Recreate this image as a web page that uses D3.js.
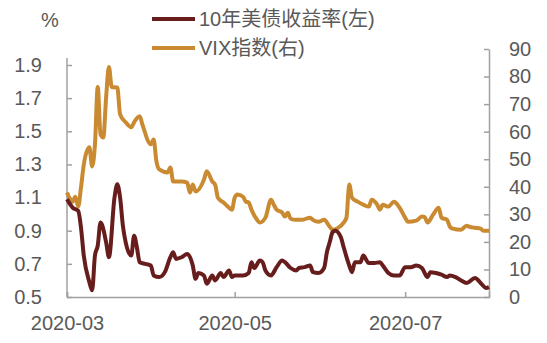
<!DOCTYPE html>
<html>
<head>
<meta charset="utf-8">
<script src="https://cdn.jsdelivr.net/npm/d3@7"></script>
<style>
  body { margin: 0; background: #fff; }
  svg text { font-family: "Liberation Sans", Arial, "Noto Sans CJK SC", sans-serif; fill: #595959; }
</style>
</head>
<body>
<div id="chart"></div>
<script>
// 10y treasury yield (left, %) and VIX (right), Mar-Jul 2020
var yieldDates = ["2020-03-02","2020-03-04","2020-03-06","2020-03-07","2020-03-08","2020-03-10","2020-03-11","2020-03-12","2020-03-13","2020-03-14",
  "2020-03-16","2020-03-17","2020-03-19","2020-03-20","2020-03-21","2020-03-22","2020-03-23","2020-03-25","2020-03-26","2020-03-27",
  "2020-03-28","2020-03-30","2020-04-01","2020-04-02","2020-04-04","2020-04-06","2020-04-08","2020-04-09","2020-04-10","2020-04-12",
  "2020-04-14","2020-04-16","2020-04-17","2020-04-18","2020-04-20","2020-04-21","2020-04-23","2020-04-24","2020-04-26","2020-04-27",
  "2020-04-29","2020-04-30","2020-05-01","2020-05-04","2020-05-06","2020-05-07","2020-05-08","2020-05-10","2020-05-11","2020-05-12",
  "2020-05-14","2020-05-16","2020-05-18","2020-05-19","2020-05-21","2020-05-23","2020-05-24","2020-05-26","2020-05-28","2020-05-29",
  "2020-05-31","2020-06-02","2020-06-03","2020-06-04","2020-06-05","2020-06-06","2020-06-08","2020-06-09","2020-06-11","2020-06-12",
  "2020-06-13","2020-06-15","2020-06-16","2020-06-18","2020-06-20","2020-06-22","2020-06-23","2020-06-25","2020-06-27","2020-06-29",
  "2020-07-01","2020-07-03","2020-07-05","2020-07-07","2020-07-09","2020-07-10","2020-07-12","2020-07-14","2020-07-16","2020-07-17",
  "2020-07-19","2020-07-21","2020-07-23","2020-07-26","2020-07-28","2020-07-30","2020-07-31"];
var yieldValues = [1.09,1.04,1.02,0.92,0.75,0.59,0.54,0.75,0.81,0.95,
  0.83,0.74,1.10,1.18,1.10,0.93,0.83,0.75,0.87,0.80,
  0.71,0.70,0.69,0.63,0.62,0.65,0.74,0.77,0.73,0.74,
  0.76,0.69,0.61,0.645,0.63,0.58,0.63,0.60,0.645,0.62,
  0.66,0.62,0.63,0.63,0.645,0.71,0.675,0.72,0.71,0.66,
  0.63,0.68,0.72,0.71,0.675,0.66,0.675,0.68,0.69,0.65,
  0.645,0.675,0.77,0.83,0.89,0.90,0.86,0.80,0.69,0.65,
  0.71,0.71,0.75,0.705,0.705,0.71,0.69,0.645,0.63,0.63,
  0.68,0.68,0.69,0.675,0.62,0.65,0.645,0.635,0.62,0.63,
  0.62,0.60,0.585,0.615,0.585,0.555,0.56];

var vixDates = ["2020-03-02","2020-03-04","2020-03-05","2020-03-06","2020-03-07","2020-03-08","2020-03-10","2020-03-11","2020-03-12","2020-03-13",
  "2020-03-14","2020-03-15","2020-03-16","2020-03-17","2020-03-18","2020-03-20","2020-03-21","2020-03-23","2020-03-25","2020-03-26",
  "2020-03-28","2020-03-29","2020-04-01","2020-04-02","2020-04-03","2020-04-04","2020-04-07","2020-04-08","2020-04-09","2020-04-12",
  "2020-04-14","2020-04-15","2020-04-16","2020-04-17","2020-04-20","2020-04-21","2020-04-23","2020-04-24","2020-04-25","2020-04-27",
  "2020-04-29","2020-04-30","2020-05-01","2020-05-02","2020-05-04","2020-05-05","2020-05-06","2020-05-07","2020-05-09","2020-05-10",
  "2020-05-12","2020-05-14","2020-05-15","2020-05-16","2020-05-18","2020-05-19","2020-05-20","2020-05-21","2020-05-23","2020-05-25",
  "2020-05-28","2020-05-29","2020-05-31","2020-06-02","2020-06-04","2020-06-05","2020-06-07","2020-06-09","2020-06-10","2020-06-11",
  "2020-06-12","2020-06-14","2020-06-16","2020-06-18","2020-06-19","2020-06-21","2020-06-22","2020-06-23","2020-06-25","2020-06-27",
  "2020-06-29","2020-07-01","2020-07-02","2020-07-05","2020-07-07","2020-07-08","2020-07-09","2020-07-11","2020-07-13","2020-07-14",
  "2020-07-16","2020-07-17","2020-07-18","2020-07-21","2020-07-23","2020-07-24","2020-07-26","2020-07-28","2020-07-29","2020-07-31"];
var vixValues = [37.9,34.6,36.4,32.8,39.7,48.0,54.3,47.4,55.4,76.2,
  59.0,57.9,72.5,83.5,76.2,76.0,66.3,63.4,61.6,63.4,
  65.6,62.5,55.4,57.2,49.2,46.3,45.2,47.0,41.9,41.9,
  41.5,37.9,40.8,38.3,42.6,45.6,41.9,40.8,36.0,34.3,
  32.4,31.7,36.0,37.2,36.4,34.6,34.3,31.7,28.0,27.0,
  28.8,35.3,33.5,31.7,30.6,29.2,30.6,28.4,28.0,28.0,
  28.8,28.0,27.3,28.0,25.5,24.4,25.1,27.0,28.8,40.8,
  36.0,34.6,33.5,32.8,35.3,33.5,31.7,33.5,32.8,34.6,
  32.4,28.8,27.3,27.7,29.2,29.0,27.0,29.9,32.4,28.8,
  28.0,25.5,24.8,24.4,25.9,25.5,25.1,24.8,24.0,24.0];

var leftTicks = [0.5, 0.7, 0.9, 1.1, 1.3, 1.5, 1.7, 1.9];
var rightTicks = [0, 10, 20, 30, 40, 50, 60, 70, 80, 90];
var monthTicks = ["2020-03-02", "2020-05-01", "2020-07-01"];
var seriesNames = ["10年美债收益率(左)", "VIX指数(右)"];
var seriesColors = ["#681d1d", "#c98a31"];

function drawChart() {
  var width = 547;
  var height = 343;

  var plot = { left: 67, right: 489, top: 49, bottom: 297 };
  var axisColor = "#a0a0a0";

  var parse = d3.timeParse("%Y-%m-%d");

  var svg = d3.select("#chart")
    .append("svg")
      .attr("width", width)
      .attr("height", height);

  var x = d3.scaleTime()
    .domain([parse(yieldDates[0]), parse(yieldDates[yieldDates.length - 1])])
    .range([plot.left, plot.right]);

  var yLeft = d3.scaleLinear()
    .domain([0.5, 1.9])
    .range([plot.bottom, 65]);

  var yRight = d3.scaleLinear()
    .domain([0, 90])
    .range([plot.bottom, plot.top]);

  // axes
  var leftAxis = d3.axisLeft(yLeft)
    .tickValues(leftTicks)
    .tickFormat(d3.format(".1f"))
    .tickSizeInner(-5)
    .tickSizeOuter(0)
    .tickPadding(25);

  var rightAxis = d3.axisRight(yRight)
    .tickValues(rightTicks)
    .tickSizeInner(-5)
    .tickSizeOuter(0)
    .tickPadding(20);

  var bottomAxis = d3.axisBottom(x)
    .tickValues(monthTicks.map(parse))
    .tickFormat(d3.timeFormat("%Y-%m"))
    .tickSizeInner(-5)
    .tickSizeOuter(-5)
    .tickPadding(19);

  var gLeft = svg.append("g")
    .attr("transform", "translate(" + plot.left + ",0)")
    .call(leftAxis);
  gLeft.select(".domain").remove();
  gLeft.append("line")
    .attr("y1", 58).attr("y2", plot.bottom)
    .attr("stroke", axisColor).attr("stroke-width", 1.5);

  var gRight = svg.append("g")
    .attr("transform", "translate(" + plot.right + ",0)")
    .call(rightAxis);

  var gBottom = svg.append("g")
    .attr("transform", "translate(0," + plot.bottom + ")")
    .call(bottomAxis);

  [gLeft, gRight, gBottom].forEach(function(g) {
    g.selectAll(".domain").attr("stroke", axisColor).attr("stroke-width", 1.5);
    g.selectAll(".tick line").attr("stroke", axisColor).attr("stroke-width", 1.5);
    g.selectAll(".tick text")
      .attr("fill", "#595959")
      .style("font-size", "20px");
  });

  // unit label
  svg.append("text")
    .attr("x", 50)
    .attr("y", 20)
    .attr("text-anchor", "middle")
    .attr("dominant-baseline", "central")
    .style("font-size", "20px")
    .text("%");

  // lines
  var vixLine = d3.line()
    .x(function(d, i) { return x(parse(vixDates[i])); })
    .y(function(d) { return yRight(d); })
    .curve(d3.curveMonotoneX);

  var yieldLine = d3.line()
    .x(function(d, i) { return x(parse(yieldDates[i])); })
    .y(function(d) { return yLeft(d); })
    .curve(d3.curveMonotoneX);

  svg.append("path")
    .datum(vixValues)
    .attr("fill", "none")
    .attr("stroke", seriesColors[1])
    .attr("stroke-width", 4)
    .attr("stroke-linejoin", "round")
    .attr("d", vixLine);

  svg.append("path")
    .datum(yieldValues)
    .attr("fill", "none")
    .attr("stroke", seriesColors[0])
    .attr("stroke-width", 4)
    .attr("stroke-linejoin", "round")
    .attr("d", yieldLine);

  // legend
  var legend = svg.append("g")
    .selectAll("g")
    .data(seriesNames)
    .enter().append("g")
      .attr("transform", function(d, i) { return "translate(152," + (19 + i * 29) + ")"; });

  legend.append("line")
    .attr("x1", 0).attr("x2", 43)
    .attr("stroke", function(d, i) { return seriesColors[i]; })
    .attr("stroke-width", 4);

  legend.append("text")
    .attr("x", 47)
    .attr("dominant-baseline", "central")
    .style("font-size", "20px")
    .text(function(d) { return d; });
}

drawChart();
</script>
</body>
</html>
